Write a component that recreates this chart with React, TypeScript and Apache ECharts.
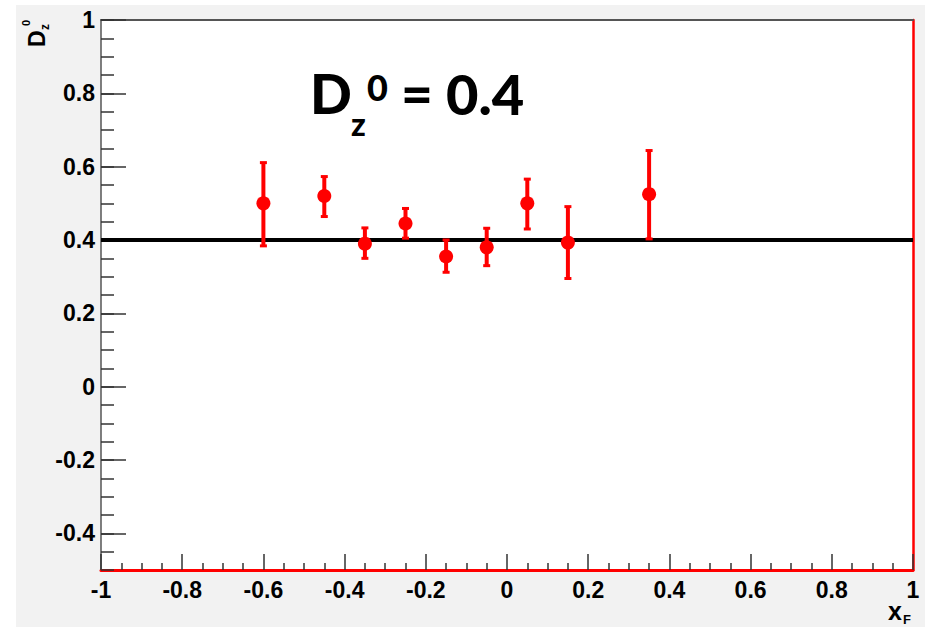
import React, { useEffect, useRef } from "react";
import * as echarts from "echarts";

const xVals = [-0.6, -0.45, -0.35, -0.25, -0.15, -0.05, 0.05, 0.15, 0.35];
const yVals = [0.5, 0.52, 0.39, 0.445, 0.355, 0.38, 0.5, 0.393, 0.525];
const yLow = [0.384, 0.464, 0.35, 0.405, 0.312, 0.33, 0.43, 0.295, 0.403];
const yHigh = [0.611, 0.573, 0.433, 0.486, 0.4, 0.432, 0.566, 0.491, 0.644];
const refLineX = [-1, 1];
const refY = 0.4;
const yMajorTicks = [-0.4, -0.2, 0, 0.2, 0.4, 0.6, 0.8, 1];

const LABEL_FONT = "'Liberation Sans', Arial, sans-serif";
const BIG_FONT = "Lato, 'Open Sans', sans-serif";

export default function App() {
  const ref = useRef<HTMLDivElement>(null);
  useEffect(() => {
    if (!ref.current) return;
    const chart = echarts.init(ref.current, undefined, { renderer: "svg" });
    const tickColor = "#333";
    const option: any = {
      animation: false,
      backgroundColor: "transparent",
      grid: {
        left: 101,
        right: 12,
        top: 20,
        bottom: 57,
        show: true,
        backgroundColor: "#ffffff",
        borderWidth: 0,
      },
      xAxis: [
        {
          type: "value",
          min: -1,
          max: 1,
          interval: 0.2,
          position: "bottom",
          axisLine: { show: true, onZero: false, lineStyle: { color: "#ff0000", width: 3 } },
          axisTick: { show: true, inside: true, length: 16, lineStyle: { color: tickColor, width: 1.5 } },
          minorTick: { show: true, splitNumber: 4, length: 7, lineStyle: { color: tickColor, width: 1.5 } },
          axisLabel: {
            show: true,
            margin: 8,
            fontFamily: LABEL_FONT,
            fontWeight: "bold",
            fontSize: 23,
            color: "#000",
            formatter: (v: number) => String(Math.round(v * 10) / 10),
          },
          splitLine: { show: false },
          minorSplitLine: { show: false },
        },
        {
          type: "value",
          min: -1,
          max: 1,
          position: "top",
          axisLine: { show: true, onZero: false, lineStyle: { color: "#555", width: 2 } },
          axisTick: { show: false },
          axisLabel: { show: false },
          splitLine: { show: false },
        },
      ],
      yAxis: [
        {
          type: "value",
          min: -0.5,
          max: 1,
          position: "left",
          axisLine: { show: true, onZero: false, lineStyle: { color: "#555", width: 1.5 } },
          axisTick: {
            show: true,
            inside: true,
            length: 25,
            customValues: yMajorTicks,
            lineStyle: { color: tickColor, width: 1.5 },
          },
          axisLabel: {
            show: true,
            customValues: yMajorTicks,
            margin: 6,
            fontFamily: LABEL_FONT,
            fontWeight: "bold",
            fontSize: 23,
            color: "#000",
            formatter: (v: number) => String(Math.round(v * 10) / 10),
          },
          splitLine: { show: false },
        },
        {
          type: "value",
          min: -0.5,
          max: 1,
          interval: 0.05,
          position: "left",
          axisLine: { show: false, onZero: false },
          axisTick: { show: true, inside: true, length: 13, lineStyle: { color: tickColor, width: 1.5 } },
          axisLabel: { show: false },
          splitLine: { show: false },
        },
        {
          type: "value",
          min: -0.5,
          max: 1,
          position: "right",
          axisLine: { show: true, onZero: false, lineStyle: { color: "#ff0000", width: 2.5 } },
          axisTick: { show: false },
          axisLabel: { show: false },
          splitLine: { show: false },
        },
      ],
      graphic: [
        // big annotation
        { type: "text", x: 310, y: 93, style: { text: "D", fontFamily: BIG_FONT, fontWeight: 900, fontSize: 55, fill: "#000", verticalAlign: "middle", align: "left" } },
        { type: "text", x: 351, y: 123, style: { text: "z", fontFamily: BIG_FONT, fontWeight: 900, fontSize: 32, fill: "#000", verticalAlign: "middle", align: "left" } },
        { type: "text", x: 367, y: 87, style: { text: "0", fontFamily: BIG_FONT, fontWeight: 900, fontSize: 36, fill: "#000", verticalAlign: "middle", align: "left" } },
        { type: "text", x: 401, y: 93, style: { text: "=", fontFamily: BIG_FONT, fontWeight: 900, fontSize: 55, fill: "#000", verticalAlign: "middle", align: "left" } },
        { type: "text", x: 446, y: 93, style: { text: "0.4", fontFamily: BIG_FONT, fontWeight: 900, fontSize: 56, fill: "#000", verticalAlign: "middle", align: "left" } },
        // y-axis title
        {
          type: "group",
          x: 46,
          y: 47,
          rotation: Math.PI / 2,
          children: [
            { type: "text", x: 0, y: -9, style: { text: "D", fontFamily: LABEL_FONT, fontWeight: "bold", fontSize: 23, fill: "#000", verticalAlign: "middle", align: "left" } },
            { type: "text", x: 17, y: -1.5, style: { text: "z", fontFamily: LABEL_FONT, fontWeight: "bold", fontSize: 12, fill: "#000", verticalAlign: "middle", align: "left" } },
            { type: "text", x: 21, y: -20, style: { text: "0", fontFamily: LABEL_FONT, fontWeight: "bold", fontSize: 11, fill: "#000", verticalAlign: "middle", align: "left" } },
          ],
        },
        // x-axis title
        { type: "text", x: 888, y: 611, style: { text: "x", fontFamily: LABEL_FONT, fontWeight: "bold", fontSize: 25, fill: "#000", verticalAlign: "middle", align: "left" } },
        { type: "text", x: 903, y: 619, style: { text: "F", fontFamily: LABEL_FONT, fontWeight: "bold", fontSize: 13, fill: "#000", verticalAlign: "middle", align: "left" } },
      ],
      series: [
        {
          type: "line",
          xAxisIndex: 0,
          yAxisIndex: 0,
          data: refLineX.map((x) => [x, refY]),
          symbol: "none",
          lineStyle: { color: "#000", width: 4 },
          z: 1,
          silent: true,
        },
        {
          type: "custom",
          xAxisIndex: 0,
          yAxisIndex: 0,
          data: xVals.map((x, i) => [x, yVals[i], yLow[i], yHigh[i]]),
          z: 3,
          renderItem: (params: any, api: any) => {
            const x = api.value(0);
            const lo = api.value(2);
            const hi = api.value(3);
            const top = api.coord([x, hi]);
            const bot = api.coord([x, lo]);
            const cw = 3.5;
            return {
              type: "group",
              children: [
                { type: "line", shape: { x1: top[0], y1: top[1], x2: bot[0], y2: bot[1] }, style: { stroke: "#ff0000", lineWidth: 4 } },
                { type: "line", shape: { x1: top[0] - cw, y1: top[1], x2: top[0] + cw, y2: top[1] }, style: { stroke: "#ff0000", lineWidth: 3 } },
                { type: "line", shape: { x1: bot[0] - cw, y1: bot[1], x2: bot[0] + cw, y2: bot[1] }, style: { stroke: "#ff0000", lineWidth: 3 } },
              ],
            };
          },
        },
        {
          type: "scatter",
          xAxisIndex: 0,
          yAxisIndex: 0,
          data: xVals.map((x, i) => [x, yVals[i]]),
          symbol: "circle",
          symbolSize: 14,
          itemStyle: { color: "#ff0000", opacity: 1 },
          z: 4,
        },
      ],
    };
    chart.setOption(option);
    return () => chart.dispose();
  }, []);

  return (
    <div style={{ position: "fixed", left: 0, top: 0, width: 925, height: 627, background: "#ffffff" }}>
      <div style={{ position: "absolute", left: 16, top: 5, width: 909, height: 622, background: "#f2f2f2" }} />
      <div ref={ref} style={{ position: "absolute", left: 0, top: 0, width: 925, height: 627 }} />
    </div>
  );
}
